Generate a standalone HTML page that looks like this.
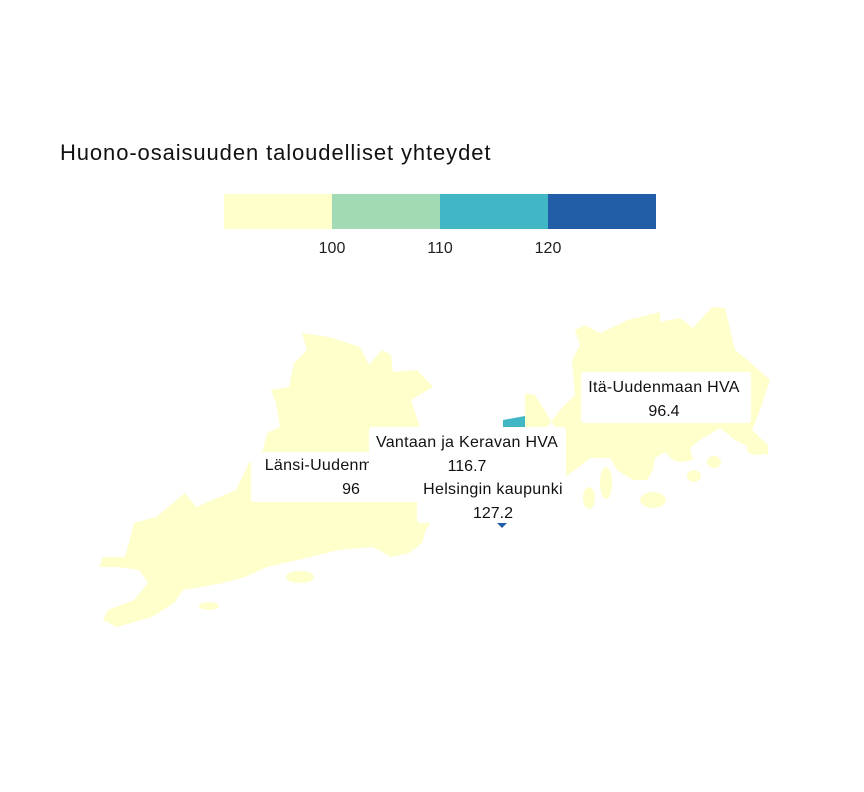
<!DOCTYPE html>
<html><head><meta charset="utf-8"><style>
body{margin:0;background:#fff;}
svg{display:block;font-family:"Liberation Sans",sans-serif;}
</style></head><body>
<svg id="chart" width="864" height="792">
<text x="60" y="160" font-size="22" letter-spacing="0.9" fill="#111">Huono-osaisuuden taloudelliset yhteydet</text>
<g id="legend"></g>
<g id="map"></g>
<g id="labels"></g>
</svg>
<script>
const regionNames = ["Länsi-Uudenmaan HVA","Vantaan ja Keravan HVA","Helsingin kaupunki","Itä-Uudenmaan HVA"];
const regionValues = [96, 116.7, 127.2, 96.4];
const breaks = [100, 110, 120];
const palette = ["#ffffcc","#a1dab4","#41b6c4","#225ea8"];
const NS="http://www.w3.org/2000/svg";
function colorFor(v){let i=0;while(i<breaks.length&&v>=breaks[i])i++;return palette[i];}
function mk(t,a,p){const e=document.createElementNS(NS,t);for(const k in a)e.setAttribute(k,a[k]);p.appendChild(e);return e;}
const lg=document.getElementById('legend');
const lx0=224,segW=108;
palette.forEach((c,i)=>{const r=mk('rect',{x:lx0+i*segW,y:194,width:segW,height:35,fill:c},lg);

});
breaks.forEach((b,i)=>{const t=mk('text',{x:lx0+(i+1)*segW,y:253,'font-size':16,'text-anchor':'middle',fill:'#222'},lg);t.textContent=b;

});
const shapes=[
 [[[302,333],[329,337],[360,347],[369,365],[382,350],[391,355],[393,372],[417,370],[433,387],[411,400],[420,427],[440,450],[445,500],[426,530],[422,543],[409,553],[391,557],[373,547],[338,550],[298,560],[267,567],[245,577],[223,583],[201,587],[183,590],[174,603],[152,617],[117,627],[103,620],[108,610],[134,600],[148,583],[139,570],[117,567],[99,567],[103,557],[125,557],[134,523],[156,517],[185,493],[196,507],[236,490],[249,463],[263,450],[267,433],[280,427],[276,403],[271,390],[289,387],[294,363],[307,350]]],
 [[[503,420],[525,416],[525,450],[503,450]]],
 [[[496,522],[508,522],[502,528]]],
 [[[575,330],[585,325],[600,333],[628,320],[660,312],[660,322],[680,318],[693,328],[712,307],[725,308],[735,350],[750,362],[770,380],[765,395],[760,410],[752,430],[768,445],[768,455],[755,450],[735,440],[720,428],[700,440],[690,448],[693,460],[680,462],[673,460],[665,452],[655,458],[653,470],[647,480],[633,480],[617,470],[610,458],[590,458],[575,470],[563,478],[563,440],[555,427],[535,395],[525,393],[525,430],[545,430],[560,410],[575,395],[572,360],[580,345]]]
];
const islands=[[209,606,10,4],[300,577,14,6],[606,483,6,16],[589,498,6,11],[653,500,13,8],[694,476,7,6],[714,462,7,6],[757,449,10,6]];
const mp=document.getElementById('map');
regionNames.forEach((n,i)=>{shapes[i].forEach(poly=>{const p=mk('polygon',{points:poly.map(q=>q.join(',')).join(' '),fill:colorFor(regionValues[i])},mp);

});});
islands.forEach((s,j)=>{const e=mk('ellipse',{cx:s[0],cy:s[1],rx:s[2],ry:s[3],fill:colorFor(regionValues[j<2?0:3])},mp);

});
const boxes=[[251,452,194,50,351,470],[369,427,197,52,467,447],[417,477,151,46,493,494],[581,372,170,51,664,392]];
const lb=document.getElementById('labels');
const defs=mk('defs',{},document.getElementById('chart'));
const cp=mk('clipPath',{id:'c0'},defs);mk('rect',{x:0,y:0,width:369,height:792},cp);
regionNames.forEach((n,i)=>{const b=boxes[i];const g=mk('g',{},lb);


mk('rect',{x:b[0],y:b[1],width:b[2],height:b[3],rx:3,fill:'#fff'},g);
const t1=mk('text',{x:b[4],y:b[5],'font-size':16,'letter-spacing':0.3,'text-anchor':'middle',fill:'#111'},g);t1.textContent=n;
const t2=mk('text',{x:b[4],y:b[5]+24,'font-size':16,'text-anchor':'middle',fill:'#111'},g);t2.textContent=regionValues[i];
if(i===0){t1.setAttribute('clip-path','url(#c0)');}});
</script>
</body></html>
